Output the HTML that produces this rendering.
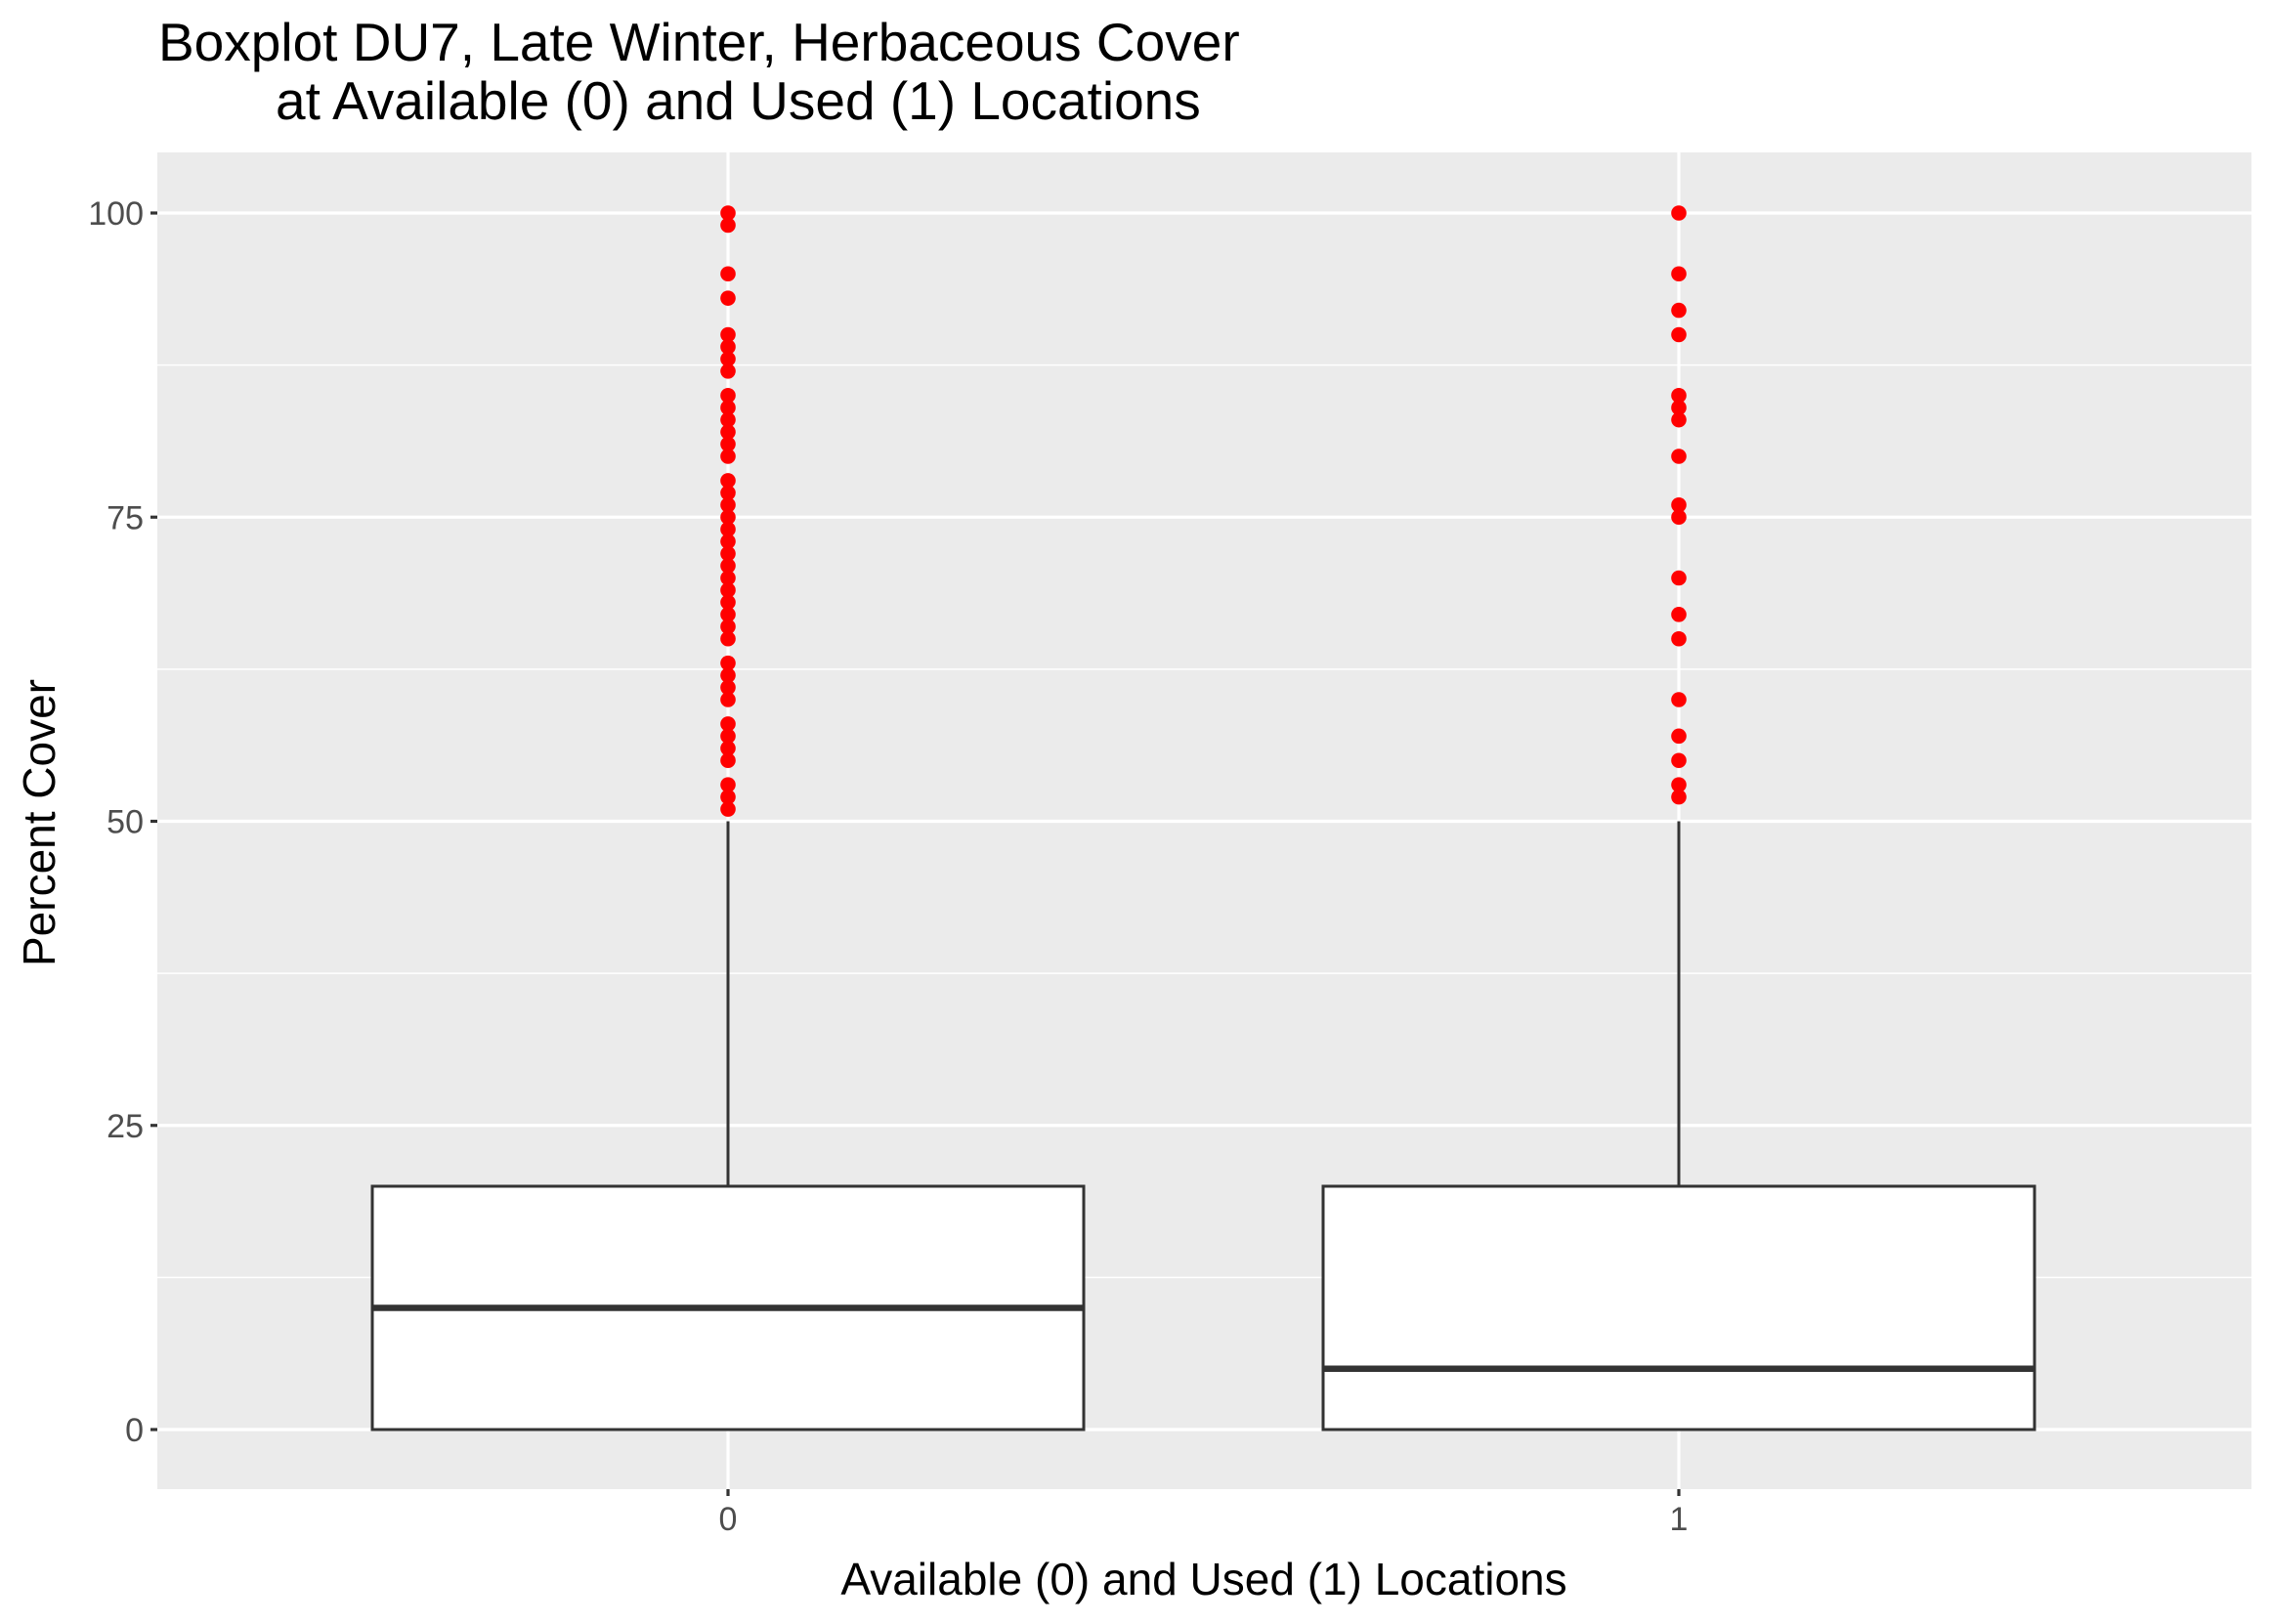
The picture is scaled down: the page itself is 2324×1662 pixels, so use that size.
<!DOCTYPE html>
<html><head><meta charset="utf-8"><style>
html,body{margin:0;padding:0;background:#fff;}
svg{display:block;font-family:"Liberation Sans",Arial,sans-serif;}
</style></head><body>
<svg id="chart" width="2324" height="1662" viewBox="0 0 2324 1662" xmlns="http://www.w3.org/2000/svg">
<rect width="2324" height="1662" fill="#fff"/>
<text x="162" y="62" font-size="55" fill="#000">Boxplot DU7, Late Winter, Herbaceous Cover</text>
<text x="282" y="122" font-size="55" fill="#000">at Available (0) and Used (1) Locations</text>
<rect x="161" y="156" width="2143" height="1368" fill="#ebebeb"/>
<g id="grid"></g>
<g id="marks"></g>
<g id="axes"></g>
<text x="1232" y="1632" font-size="46" text-anchor="middle" fill="#000">Available (0) and Used (1) Locations</text>
<text transform="translate(56,842) rotate(-90)" font-size="46" text-anchor="middle" fill="#000">Percent Cover</text>
</svg>
<script>
const categories = ["0", "1"];
const yTicks = [0, 25, 50, 75, 100];
const yMinor = [12.5, 37.5, 62.5, 87.5];
const q1 = [0, 0];
const medians = [10, 5];
const q3 = [20, 20];
const whiskLow = [0, 0];
const whiskHigh = [50, 50];
const outliers0 = [100, 99, 95, 93, 90, 89, 88, 87, 85, 84, 83, 82, 81, 80, 78, 77, 76, 75, 74, 73, 72, 71, 70, 69, 68, 67, 66, 65, 63, 62, 61, 60, 58, 57, 56, 55, 53, 52, 51];
const outliers1 = [100, 95, 92, 90, 85, 84, 83, 80, 76, 75, 70, 67, 65, 60, 57, 55, 53, 52];
const outliers = [outliers0, outliers1];

const NS = "http://www.w3.org/2000/svg";
const panel = {x0: 161, x1: 2304, y0: 156, y1: 1524};
function yScale(v){ return 1463 + (218 - 1463) * v / 100; }
function xScale(i){ return 745 + i * (1718 - 745); }
const halfW = 364;
function mk(tag, attrs, parent){
  const e = document.createElementNS(NS, tag);
  for (const k in attrs) e.setAttribute(k, attrs[k]);
  parent.appendChild(e);
  return e;
}
const grid = document.getElementById('grid');
const marks = document.getElementById('marks');
const axes = document.getElementById('axes');

yMinor.forEach(v => {
  const l = mk('line', {x1: panel.x0, x2: panel.x1, y1: yScale(v), y2: yScale(v), stroke: '#fff', 'stroke-width': 1.6}, grid);
  
  
});
yTicks.forEach(v => {
  const l = mk('line', {x1: panel.x0, x2: panel.x1, y1: yScale(v), y2: yScale(v), stroke: '#fff', 'stroke-width': 3.2}, grid);
  
  
  const t = mk('line', {x1: panel.x0 - 7, x2: panel.x0, y1: yScale(v), y2: yScale(v), stroke: '#333', 'stroke-width': 3.2}, axes);
  
  
  const tx = mk('text', {x: panel.x0 - 14, y: yScale(v) + 12, 'font-size': 34, 'text-anchor': 'end', fill: '#4d4d4d'}, axes);
  tx.textContent = String(v);
  
  
});
categories.forEach((c, i) => {
  const x = xScale(i);
  const g = mk('line', {x1: x, x2: x, y1: panel.y0, y2: panel.y1, stroke: '#fff', 'stroke-width': 3.2}, grid);
  
  
  const t = mk('line', {x1: x, x2: x, y1: panel.y1, y2: panel.y1 + 7, stroke: '#333', 'stroke-width': 3.2}, axes);
  
  
  const tx = mk('text', {x: x, y: panel.y1 + 42, 'font-size': 34, 'text-anchor': 'middle', fill: '#4d4d4d'}, axes);
  tx.textContent = c;
  
  

  const wu = mk('line', {x1: x, x2: x, y1: yScale(q3[i]), y2: yScale(whiskHigh[i]), stroke: '#333', 'stroke-width': 3}, marks);
  
  
  const wl = mk('line', {x1: x, x2: x, y1: yScale(q1[i]), y2: yScale(whiskLow[i]), stroke: '#333', 'stroke-width': 3}, marks);
  
  
  const b = mk('rect', {x: x - halfW, y: yScale(q3[i]), width: 2 * halfW, height: yScale(q1[i]) - yScale(q3[i]), fill: '#fff', stroke: '#333', 'stroke-width': 3}, marks);
  
  
  const m = mk('line', {x1: x - halfW, x2: x + halfW, y1: yScale(medians[i]), y2: yScale(medians[i]), stroke: '#333', 'stroke-width': 6.5}, marks);
  
  
  outliers[i].forEach(v => {
    const p = mk('circle', {cx: x, cy: yScale(v), r: 7.8, fill: '#ff0000'}, marks);
    
    
  });
});
</script>
</body></html>
